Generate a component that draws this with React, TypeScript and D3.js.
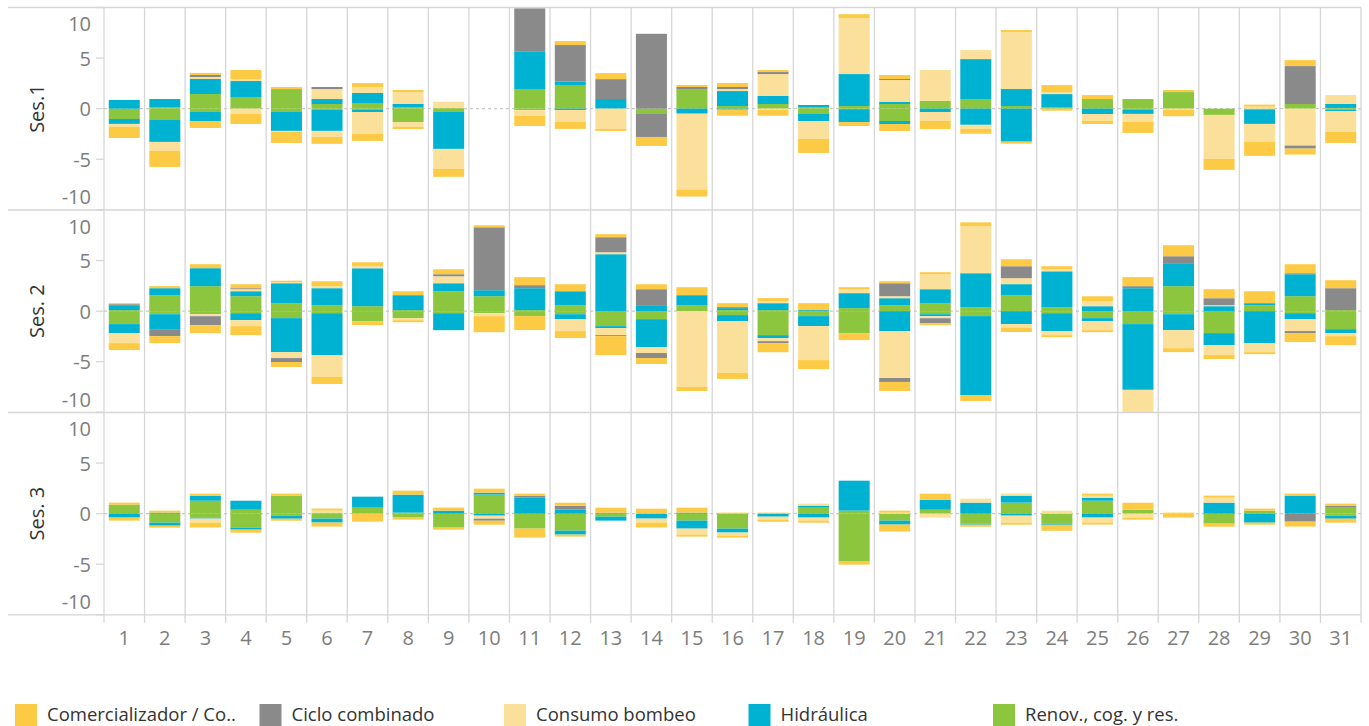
import * as d3 from "d3"

// day labels (x categories)
const days = ["1", "2", "3", "4", "5", "6", "7", "8", "9", "10", "11", "12", "13", "14", "15", "16", "17", "18", "19", "20", "21", "22", "23", "24", "25", "26", "27", "28", "29", "30", "31"]

const categories = ["Comercializador / Co..", "Ciclo combinado", "Consumo bombeo", "Hidráulica", "Renov., cog. y res."]
const sessionLabels = ["Ses.1", "Ses. 2", "Ses. 3"]
const yTicks = [10, 5, 0, -5, -10]

// Session 1 (up / down)
const s1RenUp = [0, 0.16, 1.45, 1.15, 1.94, 0.46, 0.56, 0.16, 0.07, 0, 1.94, 2.34, 0, 0, 1.94, 0.26, 0.46, 0.16, 0.26, 0.46, 0.76, 0.95, 0.26, 0.16, 0.95, 0.95, 1.64, 0, 0, 0.46, 0.07]
const s1RenDn = [-1.02, -1.12, -0.33, 0, -0.33, -0.13, -0.13, -1.32, -0.33, 0, -0.13, 0, 0, -0.53, 0, 0, 0, -0.53, -0.05, -1.22, 0, 0, 0, 0, 0, -0.13, 0, -0.62, -0.13, 0, -0.13]
const s1HidUp = [0.86, 0.79, 1.48, 1.58, 0, 0.49, 0.99, 0.3, 0, 0, 3.68, 0.33, 0.95, 0, 0, 1.48, 0.79, 0.2, 3.16, 0.2, 0, 3.95, 1.68, 1.28, 0, 0, 0, 0, 0, 0, 0.39]
const s1HidDn = [-0.49, -2.17, -0.89, 0, -1.87, -2.07, -0.2, 0, -3.65, 0, 0, -0.13, 0, 0, -0.5, -0.1, 0, -0.69, -1.28, -0.3, -0.33, -1.6, -3.26, 0, -0.53, -0.39, 0, 0, -1.38, 0, -0.1]
const s1BomUp = [0, 0, 0.2, 0.2, 0, 0.99, 0.59, 1.18, 0.6, 0, 0, 0, 0, 0, 0, 0.2, 2.17, 0, 5.53, 2.17, 3.06, 0.89, 5.63, 0.2, 0, 0, 0, 0, 0.2, 0, 0.89]
const s1BomDn = [-0.3, -0.89, 0, -0.53, -0.1, -0.59, -2.17, -0.49, -1.97, 0, -0.59, -1.18, -2.0, 0, -7.5, 0, -0.1, -1.78, 0, 0, -0.89, -0.39, 0, 0, -0.69, -0.79, -0.1, -4.34, -1.78, -3.65, -2.07]
const s1CicUp = [0, 0, 0.2, 0, 0, 0.2, 0, 0, 0, 0, 4.3, 3.62, 1.97, 7.4, 0.2, 0.2, 0.2, 0, 0, 0.1, 0, 0, 0, 0, 0, 0, 0, 0, 0, 3.75, 0]
const s1CicDn = [0, 0, 0, 0, 0, 0, 0, 0, 0, 0, 0, 0, 0, -2.27, 0, 0, 0, 0, 0, 0, 0, 0, 0, 0, 0, 0, 0, 0, 0, -0.3, 0]
const s1ComUp = [0, 0, 0.2, 0.89, 0.2, 0, 0.39, 0.2, 0, 0, 0, 0.39, 0.59, 0, 0.2, 0.39, 0.2, 0, 0.39, 0.39, 0, 0, 0.2, 0.69, 0.39, 0, 0.2, 0, 0.2, 0.59, 0]
const s1ComDn = [-1.09, -1.58, -0.69, -0.99, -1.09, -0.69, -0.69, -0.2, -0.79, 0, -0.99, -0.69, -0.2, -0.89, -0.69, -0.6, -0.6, -1.38, -0.39, -0.69, -0.79, -0.49, -0.2, -0.2, -0.3, -1.09, -0.65, -1.09, -1.38, -0.59, -1.09]

// Session 2
const s2RenUp = [0.1, 1.58, 2.47, 1.48, 0.79, 0.59, 0.49, 0.1, 1.97, 1.48, 0.1, 0.59, 0, 0, 0.59, 0.1, 0.1, 0, 0.3, 0.59, 0.79, 0.39, 1.58, 0.39, 0, 0, 2.47, 0, 0.59, 1.48, 0.1]
const s2RenDn = [-1.28, -0.3, -0.3, -0.2, -0.69, -0.2, -0.99, -0.69, -0.2, -0.2, -0.49, -0.3, -1.48, -0.79, 0, -0.39, -2.37, -0.49, -2.17, 0, -0.3, -0.49, 0, -0.2, -0.69, -1.28, -0.3, -2.17, 0, -0.2, -1.78]
const s2HidUp = [0.49, 0.69, 1.78, 0.49, 1.97, 1.68, 3.75, 1.48, 0.79, 0.59, 2.17, 1.38, 5.63, 0.59, 0.99, 0.2, 0.69, 0.1, 1.48, 0.69, 1.38, 3.36, 1.09, 3.55, 0.49, 2.27, 2.27, 0.49, 0.2, 2.17, 0]
const s2HidDn = [-0.89, -1.48, 0, -0.69, -3.36, -4.14, 0, 0, -1.68, 0, 0, -0.49, -0.2, -2.76, 0, -0.59, -0.3, -0.99, 0, -1.97, -0.2, -7.8, -1.28, -1.78, -0.3, -6.5, -1.58, -1.18, -3.16, -0.59, -0.39]
const s2BomUp = [0, 0, 0, 0.2, 0.1, 0.2, 0.2, 0, 0.69, 0, 0, 0, 0.2, 0, 0, 0, 0.2, 0, 0.39, 0.2, 1.48, 4.64, 0.59, 0.2, 0.49, 0, 0, 0.1, 0, 0, 0]
const s2BomDn = [-0.99, 0, -0.2, -0.59, -0.59, -2.17, 0, -0.2, 0, -0.3, 0, -1.18, -0.69, -0.59, -7.5, -5.13, -0.3, -3.36, 0, -4.64, -0.2, 0, -0.39, -0.39, -0.89, -2.5, -1.78, -0.99, -0.89, -1.18, -0.3]
const s2CicUp = [0.1, 0, 0, 0.1, 0, 0, 0, 0, 0.2, 6.22, 0.3, 0, 1.48, 1.58, 0, 0.1, 0, 0, 0, 1.28, 0, 0, 1.18, 0, 0, 0.2, 0.69, 0.69, 0, 0.1, 2.17]
const s2CicDn = [0, -0.69, -0.89, 0, -0.39, 0, 0, 0, 0, 0, 0, 0, -0.1, -0.49, 0, 0, -0.2, 0, 0, -0.39, -0.49, 0, 0, 0, 0, 0, 0, 0, 0, -0.2, 0]
const s2ComUp = [0.1, 0.2, 0.39, 0.39, 0.15, 0.49, 0.39, 0.39, 0.49, 0.2, 0.79, 0.69, 0.3, 0.49, 0.79, 0.39, 0.3, 0.69, 0.2, 0.2, 0.2, 0.39, 0.69, 0.3, 0.49, 0.89, 1.09, 0.89, 1.18, 0.89, 0.79]
const s2ComDn = [-0.69, -0.69, -0.79, -0.89, -0.49, -0.69, -0.39, -0.2, 0, -1.58, -1.38, -0.69, -1.88, -0.59, -0.39, -0.59, -0.89, -0.89, -0.69, -0.89, -0.2, -0.59, -0.39, -0.2, -0.2, 0, -0.39, -0.39, -0.2, -0.89, -0.89]

// Session 3
const s3RenUp = [0.89, 0, 1.28, 0.39, 1.78, 0.1, 0.59, 0.1, 0, 1.88, 0, 0, 0, 0, 0, 0, 0, 0.59, 0.3, 0, 0.39, 0, 1.09, 0, 1.28, 0.39, 0, 0, 0.3, 0, 0.59]
const s3RenDn = [0, -0.89, -0.39, -1.38, -0.2, -0.49, 0, -0.39, -1.38, 0, -1.48, -1.68, -0.3, 0, -0.69, -1.48, 0, 0, -4.74, -0.69, 0, -0.99, 0, -1.0, 0, 0, 0, -0.99, 0, 0, -0.2]
const s3HidUp = [0, 0.1, 0.49, 0.89, 0, 0, 1.09, 1.78, 0.3, 0.2, 1.58, 0.39, 0, 0, 0.1, 0, 0, 0.2, 2.96, 0, 0.99, 1.09, 0.69, 0, 0.3, 0, 0, 1.09, 0, 1.78, 0]
const s3HidDn = [-0.39, -0.3, -0.1, -0.2, -0.3, -0.39, 0, 0, 0, -0.2, 0, -0.39, -0.39, -0.49, -0.79, -0.39, -0.3, -0.39, 0, -0.39, 0, -0.1, -0.2, -0.1, -0.39, 0, 0, 0, -0.89, 0, -0.3]
const s3BomUp = [0, 0, 0, 0, 0, 0.2, 0, 0, 0, 0, 0, 0, 0, 0, 0, 0, 0, 0.2, 0, 0.1, 0, 0.39, 0.2, 0.3, 0.2, 0, 0, 0.49, 0, 0, 0]
const s3BomDn = [0, 0, -0.39, 0, 0, 0, 0, 0, 0, -0.3, 0, 0, 0, -0.39, -0.59, -0.3, -0.3, -0.3, 0, 0, -0.39, 0, -0.69, 0, -0.49, -0.39, 0, 0, 0, 0, 0]
const s3CicUp = [0, 0, 0, 0, 0, 0, 0, 0, 0, 0, 0.2, 0.39, 0.1, 0, 0, 0, 0, 0, 0, 0, 0, 0, 0, 0, 0, 0, 0, 0, 0, 0, 0.2]
const s3CicDn = [0, 0, 0, 0, 0, 0, 0, 0, 0, -0.2, 0, 0, 0, 0, 0, 0, 0, 0, 0, 0, 0, 0, 0, 0, 0, 0, 0, 0, 0, -0.79, 0]
const s3ComUp = [0.2, 0.2, 0.2, 0, 0.2, 0.2, 0, 0.39, 0.3, 0.39, 0.2, 0.3, 0.49, 0.49, 0.49, 0.1, 0.1, 0, 0, 0.2, 0.59, 0, 0, 0, 0.2, 0.69, 0.1, 0.2, 0.2, 0.2, 0.2]
const s3ComDn = [-0.3, -0.2, -0.49, -0.3, -0.2, -0.39, -0.79, -0.2, -0.2, -0.39, -0.89, -0.2, 0, -0.49, -0.2, -0.2, -0.2, -0.2, -0.3, -0.69, 0, -0.2, -0.2, -0.59, -0.2, -0.2, -0.39, -0.3, -0.2, -0.49, -0.39]

const colors: Record<string, string> = {
  com: "#fdca45",
  cic: "#8a8a8a",
  bom: "#fae09a",
  hid: "#00b2d1",
  ren: "#8cc63f",
}
const legendKeys = ["com", "cic", "bom", "hid", "ren"]
// stacking order from the zero line outward
const stackOrder = ["ren", "hid", "bom", "cic", "com"]

const sessions = [
  { ren: [s1RenUp, s1RenDn], hid: [s1HidUp, s1HidDn], bom: [s1BomUp, s1BomDn], cic: [s1CicUp, s1CicDn], com: [s1ComUp, s1ComDn] },
  { ren: [s2RenUp, s2RenDn], hid: [s2HidUp, s2HidDn], bom: [s2BomUp, s2BomDn], cic: [s2CicUp, s2CicDn], com: [s2ComUp, s2ComDn] },
  { ren: [s3RenUp, s3RenDn], hid: [s3HidUp, s3HidDn], bom: [s3BomUp, s3BomDn], cic: [s3CicUp, s3CicDn], com: [s3ComUp, s3ComDn] },
] as Record<string, number[][]>[]

const W = 1369
const H = 726
const plotLeft = 104
const plotRight = 1361
const panelTops = [7.5, 210, 412.5]
const panelH = 202.3
const gridColor = "#d6d6d6"
const font = "'Open Sans', sans-serif"

export default function App() {
  const x = d3.scaleBand<string>().domain(days).range([plotLeft, plotRight]).paddingInner(0.235).paddingOuter(0.1175)
  const step = x.step()

  const keys = stackOrder.flatMap((c) => [`${c}_up`, `${c}_dn`])

  return (
    <svg width={W} height={H} style={{ position: "absolute", left: 0, top: 0, background: "#fff" }} fontFamily={font}>
      <defs>
        {panelTops.map((top, i) => (
          <clipPath id={`clip${i}`} key={i}>
            <rect x={plotLeft} y={top} width={plotRight - plotLeft} height={panelH} />
          </clipPath>
        ))}
      </defs>

      {/* vertical column lines */}
      {d3.range(days.length + 1).map((i) => (
        <line key={`v${i}`} x1={plotLeft + i * step} x2={plotLeft + i * step} y1={panelTops[0]} y2={panelTops[2] + panelH} stroke={gridColor} strokeWidth={1.3} />
      ))}

      {sessions.map((ses, si) => {
        const top = panelTops[si]
        const y = d3.scaleLinear().domain([-10, 10]).range([top + panelH, top])
        const rows = days.map((d, di) => {
          const row: Record<string, number | string> = { day: d }
          stackOrder.forEach((c) => {
            row[`${c}_up`] = ses[c][0][di]
            row[`${c}_dn`] = ses[c][1][di]
          })
          return row
        })
        const stacked = d3
          .stack<Record<string, number | string>>()
          .keys(keys)
          .offset(d3.stackOffsetDiverging)(rows)

        return (
          <g key={si}>
            {/* zero line */}
            <line x1={plotLeft} x2={plotRight} y1={y(0)} y2={y(0)} stroke="#c9c9c9" strokeWidth={1.3} strokeDasharray="3,3" />
            <g clipPath={`url(#clip${si})`}>
              {stacked.map((series) => {
                const cat = series.key.split("_")[0]
                return series.map((pt, di) => {
                  if (pt[0] === pt[1]) return null
                  const y0 = y(pt[0])
                  const y1 = y(pt[1])
                  return (
                    <rect
                      key={`${series.key}-${di}`}
                      x={x(days[di])}
                      width={x.bandwidth()}
                      y={Math.min(y0, y1)}
                      height={Math.abs(y0 - y1)}
                      fill={colors[cat]}
                    />
                  )
                })
              })}
            </g>
            {/* panel border */}
            <line x1={8} x2={plotRight} y1={top} y2={top} stroke={gridColor} strokeWidth={1.3} />
            {/* y ticks */}
            {yTicks.map((t) => {
              const ty = y(t)
              const ly = Math.max(top + 16, Math.min(top + panelH - 13, ty))
              return (
                <g key={t}>
                  <line x1={96} x2={plotLeft} y1={ty} y2={ty} stroke={gridColor} strokeWidth={1.3} />
                  <text x={91} y={ly} textAnchor="end" dominantBaseline="central" fontSize={20} fill="#7d7d7d">
                    {t}
                  </text>
                </g>
              )
            })}
            <text
              transform={`translate(36,${top + panelH / 2}) rotate(-90)`}
              textAnchor="middle"
              dominantBaseline="central"
              fontSize={20}
              fill="#333"
            >
              {sessionLabels[si]}
            </text>
          </g>
        )
      })}

      {/* bottom border */}
      <line x1={8} x2={plotRight} y1={panelTops[2] + panelH} y2={panelTops[2] + panelH} stroke={gridColor} strokeWidth={1.3} />

      {/* x axis */}
      {d3.range(days.length + 1).map((i) => (
        <line key={`xt${i}`} x1={plotLeft + i * step} x2={plotLeft + i * step} y1={panelTops[2] + panelH} y2={panelTops[2] + panelH + 8} stroke={gridColor} strokeWidth={1.3} />
      ))}
      {days.map((d) => (
        <text key={`xl${d}`} x={(x(d) ?? 0) + x.bandwidth() / 2} y={637} textAnchor="middle" dominantBaseline="central" fontSize={20} fill="#7d7d7d">
          {d}
        </text>
      ))}

      {/* legend */}
      {legendKeys.map((k, i) => (
        <g key={k} transform={`translate(${15 + i * 244.5},704)`}>
          <rect width={22} height={22} fill={colors[k]} />
          <text x={32} y={9} dominantBaseline="central" fontSize={18.5} fill="#333">
            {categories[i]}
          </text>
        </g>
      ))}
    </svg>
  )
}
